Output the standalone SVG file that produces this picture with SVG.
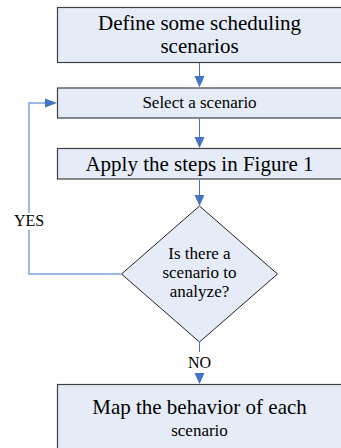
<svg xmlns="http://www.w3.org/2000/svg" width="341" height="448" viewBox="0 0 341 448">
<style>
.box{fill:#E6ECF7;stroke:#404040;stroke-width:1.2}
.t{font-family:"Liberation Serif","Times New Roman",serif;fill:#000;text-anchor:middle}
.big{font-size:21px}
.sm{font-size:17px}
.lbl{font-size:16px}
.arr{stroke:#4472C4;stroke-width:1;fill:none}
.loop{stroke:#7AA3DC;stroke-width:1.5;fill:none}
.head{fill:#4472C4}
</style>
<rect width="341" height="448" fill="#fff"/>
<g id="n1">
<rect class="box" x="57.5" y="7.5" width="300" height="55"/>
<text class="t big" x="199.5" y="30">Define some scheduling</text>
<text class="t big" x="199.5" y="53">scenarios</text>
</g>
<g id="n2">
<rect class="box" x="57.5" y="88" width="300" height="30"/>
<text class="t sm" x="199.5" y="108">Select a scenario</text>
</g>
<g id="n3">
<rect class="box" x="57.5" y="148.5" width="300" height="30.5"/>
<text class="t big" x="199.5" y="171">Apply the steps in Figure 1</text>
</g>
<g id="n4">
<polygon class="box" points="199.5,206 277.5,274 199.5,342 121.5,274" style="stroke:#222;stroke-width:1"/>
<text class="t sm" x="199.5" y="259">Is there a</text>
<text class="t sm" x="199.5" y="278">scenario to</text>
<text class="t sm" x="199.5" y="297">analyze?</text>
</g>
<g id="n5">
<rect class="box" x="57.5" y="384.5" width="300" height="80"/>
<text class="t big" x="199.5" y="414">Map the behavior of each</text>
<text class="t sm" x="199.5" y="435.5">scenario</text>
</g>
<g id="connectors">
<line class="arr" x1="199.5" y1="63" x2="199.5" y2="77"/>
<polygon class="head" points="194.5,76 204.5,76 199.5,87.5"/>
<line class="arr" x1="199.5" y1="118.5" x2="199.5" y2="138"/>
<polygon class="head" points="194.5,137 204.5,137 199.5,148"/>
<line class="arr" x1="199.5" y1="179.5" x2="199.5" y2="196"/>
<polygon class="head" points="194.5,195 204.5,195 199.5,206"/>
<polyline class="loop" points="121.5,274 29,274 29,230"/>
<polyline class="loop" points="29,213 29,103 46,103"/>
<polygon class="head" points="45,98.5 45,107.5 57,103"/>
<line class="arr" x1="199.5" y1="342" x2="199.5" y2="352"/>
<polygon class="head" points="194.5,373 204.5,373 199.5,384"/>
<text class="t lbl" x="29" y="226">YES</text>
<text class="t lbl" x="199.5" y="368">NO</text>
</g>
</svg>
